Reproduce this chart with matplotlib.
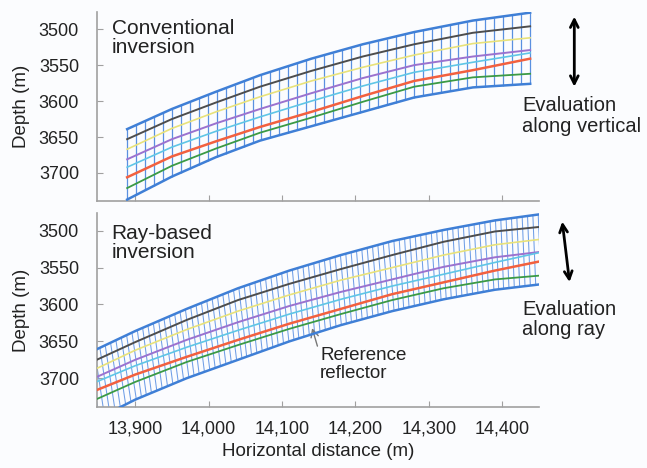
import numpy as np
import matplotlib.pyplot as plt
from matplotlib.collections import LineCollection

plt.rcParams['font.family'] = ['Liberation Sans', 'DejaVu Sans']

# Conventional inversion (top panel) - depths (m)
x_conv = [13889, 13950, 14010, 14070, 14140, 14210, 14280, 14360, 14438]
conv_top = [3639, 3611, 3587, 3564, 3541, 3521, 3504, 3488, 3477]
conv_black = [3653, 3625, 3602, 3580, 3558, 3538, 3521, 3505, 3496]
conv_yellow = [3667, 3638, 3615, 3594, 3572, 3553, 3536, 3520, 3512]
conv_purple = [3681, 3653, 3631, 3611, 3589, 3568, 3550, 3538, 3529]
conv_cyan = [3692, 3664, 3642, 3622, 3600, 3579, 3560, 3546, 3533]
conv_red = [3706, 3677, 3656, 3636, 3615, 3593, 3572, 3557, 3541]
conv_green = [3721, 3690, 3666, 3644, 3623, 3601, 3580, 3567, 3562]
conv_bottom = [3737, 3705, 3678, 3655, 3635, 3615, 3595, 3581, 3576]

# Ray-based inversion (bottom panel)
x_ray = [13830, 13900, 13970, 14040, 14110, 14180, 14250, 14320, 14390, 14449]
ray_top = [3669, 3636, 3606, 3578, 3554, 3533, 3514, 3499, 3486, 3478]
ray_black = [3683, 3651, 3621, 3594, 3572, 3552, 3533, 3515, 3501, 3495]
ray_yellow = [3695, 3662, 3634, 3609, 3587, 3567, 3550, 3533, 3519, 3512]
ray_purple = [3706, 3675, 3648, 3624, 3602, 3583, 3566, 3549, 3536, 3529]
ray_cyan = [3712, 3683, 3658, 3635, 3613, 3593, 3575, 3559, 3543, 3530]
ray_red = [3723, 3695, 3671, 3648, 3626, 3606, 3586, 3570, 3554, 3542]
ray_green = [3736, 3705, 3678, 3655, 3633, 3613, 3594, 3578, 3566, 3561]
ray_bottom = [3764, 3729, 3700, 3675, 3650, 3628, 3609, 3593, 3580, 3573]

n_cols_conv = 46
n_cols_ray = 86

layer_colors = ['#4d4d4d', '#e8e27a', '#9b72cf', '#5fc6e6', '#f2603f', '#3b9a45']
layer_widths = [1.4, 1.2, 1.4, 1.2, 1.8, 1.3]
edge_color = '#3f7fd6'
grid_color = '#5a90e0'
ray_grid_color = '#6f9ee6'
bg = '#fbfcfe'

xticks = [13900, 14000, 14100, 14200, 14300, 14400]
yticks = [3500, 3550, 3600, 3650, 3700]

fig = plt.figure(figsize=(6.47, 4.68), dpi=100, facecolor=bg)
ax1 = fig.add_axes([0.150, 0.5705, 0.683, 0.404])
ax2 = fig.add_axes([0.150, 0.1303, 0.683, 0.4145])


def style_axis(ax):
    ax.set_facecolor(bg)
    ax.set_xlim(13848, 14450)
    ax.set_ylim(3739, 3476)
    for s in ['top', 'right']:
        ax.spines[s].set_visible(False)
    for s in ['left', 'bottom']:
        ax.spines[s].set_color('#a0a0a0')
        ax.spines[s].set_linewidth(1.2)
    ax.set_xticks(xticks)
    ax.set_yticks(yticks)
    ax.tick_params(direction='in', length=4, color='#a0a0a0', labelsize=13,
                   labelcolor='#222222')
    ax.tick_params(axis='y', pad=13)
    ax.tick_params(axis='x', pad=10)
    ax.set_ylabel('Depth (m)', fontsize=13.5, color='#222222', labelpad=6)


# --- top panel: vertical evaluation columns
style_axis(ax1)
ax1.set_xticklabels([])
xc = np.linspace(x_conv[0], x_conv[-1], n_cols_conv)
ax1.vlines(xc, np.interp(xc, x_conv, conv_top), np.interp(xc, x_conv, conv_bottom),
           color=grid_color, lw=0.9, zorder=2)
conv_layers = [conv_black, conv_yellow, conv_purple, conv_cyan, conv_red, conv_green]
for d, c, w in zip(conv_layers, layer_colors, layer_widths):
    ax1.plot(x_conv, d, color=c, lw=w, zorder=3)
ax1.plot(x_conv, conv_top, color=edge_color, lw=1.8, zorder=4)
ax1.plot(x_conv, conv_bottom, color=edge_color, lw=1.8, zorder=4)
ax1.text(13868, 3486, 'Conventional\ninversion', fontsize=15, va='top',
         color='#222222', linespacing=1.0)

# --- bottom panel: columns along rays (close to normal to layering)
style_axis(ax2)
ax2.set_xticklabels([f'{t:,}' for t in xticks])
ax2.set_xlabel('Horizontal distance (m)', fontsize=13.5, color='#222222', labelpad=4)
xr = np.linspace(x_ray[0], x_ray[-1], n_cols_ray)
top_r = np.interp(xr, x_ray, ray_top)
slope = np.gradient(top_r, xr)
thick = np.interp(xr, x_ray, ray_bottom) - top_r
x_end = xr - 0.3 * slope * thick
segs = [[(a, b), (c, np.interp(c, x_ray, ray_bottom))] for a, b, c in zip(xr, top_r, x_end)]
ax2.add_collection(LineCollection(segs, colors=ray_grid_color, linewidths=0.75, zorder=2))
ray_layers = [ray_black, ray_yellow, ray_purple, ray_cyan, ray_red, ray_green]
for d, c, w in zip(ray_layers, layer_colors, layer_widths):
    ax2.plot(x_ray, d, color=c, lw=w, zorder=3)
ax2.plot(x_ray, ray_top, color=edge_color, lw=1.8, zorder=4)
ax2.plot(x_ray, ray_bottom, color=edge_color, lw=1.8, zorder=4)
ax2.text(13868, 3491, 'Ray-based\ninversion', fontsize=15, va='top',
         color='#222222', linespacing=1.0)

ax2.annotate('Reference\nreflector', xy=(14141, 3632), xytext=(14152, 3681),
             fontsize=13.5, color='#222222', va='center', ha='left', linespacing=1.05,
             arrowprops=dict(arrowstyle='->', color='#777777', lw=1.0,
                             shrinkA=0, shrinkB=0, relpos=(0, 0.75)))

# --- evaluation arrows in right margin
ax1.annotate('', xy=(1.08, 0.99), xytext=(1.08, 0.59), xycoords='axes fraction',
             arrowprops=dict(arrowstyle='<->', color='black', lw=2, mutation_scale=14),
             annotation_clip=False)
ax1.text(0.962, 0.45, 'Evaluation\nalong vertical', transform=ax1.transAxes,
         fontsize=14.5, va='center', ha='left', color='#222222', linespacing=1.1)

ax2.annotate('', xy=(1.052, 0.97), xytext=(1.07, 0.63), xycoords='axes fraction',
             arrowprops=dict(arrowstyle='<->', color='black', lw=2, mutation_scale=14),
             annotation_clip=False)
ax2.text(0.962, 0.45, 'Evaluation\nalong ray', transform=ax2.transAxes,
         fontsize=14.5, va='center', ha='left', color='#222222', linespacing=1.1)

fig.savefig('out.png', dpi=100, facecolor=bg)
